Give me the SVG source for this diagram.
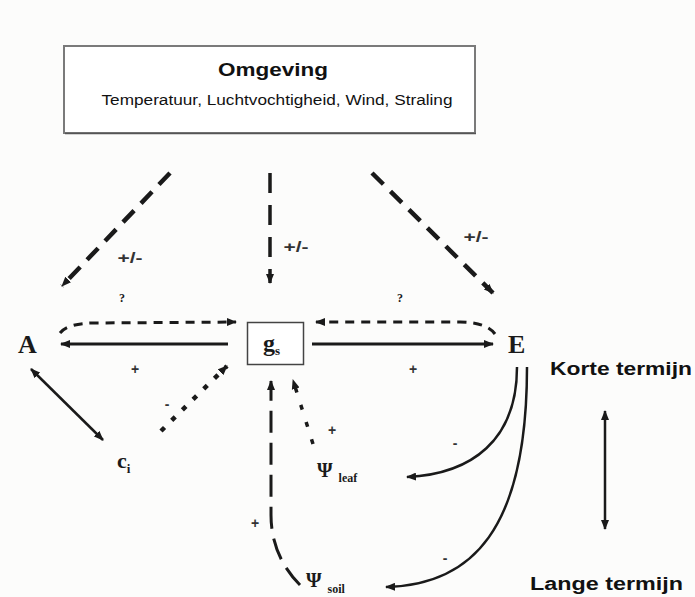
<svg xmlns="http://www.w3.org/2000/svg" width="695" height="597" viewBox="0 0 695 597">
<style>
.sans{font-family:"Liberation Sans",Arial,sans-serif;fill:#111}
.serif{font-family:"Liberation Serif","Times New Roman",serif;fill:#1a1a1a}
.lbl{font-family:"Liberation Sans",Arial,sans-serif;font-size:14px;font-weight:bold;fill:#333}
.node{font-family:"Liberation Serif","Times New Roman",serif;font-weight:bold;fill:#1a1a1a}
.solid{fill:none;stroke:#1a1a1a;stroke-width:3}
.thin{fill:none;stroke:#1a1a1a;stroke-width:2.5}
.dash{fill:none;stroke:#1a1a1a;stroke-width:4.5;stroke-dasharray:16 10}
.dashv{fill:none;stroke:#1a1a1a;stroke-width:3.5;stroke-dasharray:20 12}
.dot{fill:none;stroke:#1a1a1a;stroke-width:3;stroke-dasharray:9 7}
.dotc{fill:none;stroke:#1a1a1a;stroke-width:4.5;stroke-dasharray:5 10}
.dotl{fill:none;stroke:#1a1a1a;stroke-width:3.5;stroke-dasharray:5 13}
.longd{fill:none;stroke:#1a1a1a;stroke-width:3;stroke-dasharray:22 10}
</style>
<defs>
<marker id="ah" viewBox="0 0 10 8" refX="9" refY="4" markerWidth="10" markerHeight="8" markerUnits="userSpaceOnUse" orient="auto-start-reverse">
<path d="M0,0 L10,4 L0,8 z" fill="#1a1a1a"/>
</marker>
<marker id="ahs" viewBox="0 0 10 8" refX="9" refY="4" markerWidth="10" markerHeight="9" markerUnits="userSpaceOnUse" orient="auto-start-reverse">
<path d="M0,0 L10,4 L0,8 z" fill="#1a1a1a"/>
</marker>
</defs>
<rect x="0" y="0" width="695" height="597" fill="#fcfcfb"/>

<g id="omgeving">
<rect x="64" y="46" width="411" height="87" fill="#ffffff" stroke="#7a7a7a" stroke-width="2"/>
<line x1="65" y1="133.5" x2="476" y2="133.5" stroke="#555" stroke-width="1.5"/>
<text class="sans" x="273" y="76" font-size="19" font-weight="bold" text-anchor="middle" textLength="110" lengthAdjust="spacingAndGlyphs">Omgeving</text>
<text class="sans" x="277" y="105" font-size="14" text-anchor="middle" textLength="351" lengthAdjust="spacingAndGlyphs">Temperatuur, Luchtvochtigheid, Wind, Straling</text>
</g>

<g id="connectors">
<path class="dash" d="M170,173 L62,286" marker-end="url(#ahs)"/>
<path class="dashv" d="M270,173 L270,283" marker-end="url(#ahs)"/>
<path class="dash" d="M372,173 L493,293" marker-end="url(#ahs)"/>
<path class="dot" d="M60,333 Q68,323 95,323 L236,322" marker-end="url(#ahs)"/>
<path class="dot" d="M495,334 Q486,322 460,322 L316,322" marker-end="url(#ahs)"/>
<path class="solid" d="M228,344 L61,344" marker-end="url(#ah)"/>
<path class="solid" d="M312,344 L493,344" marker-end="url(#ah)"/>
<path class="thin" d="M31,369 L103,440" marker-start="url(#ah)" marker-end="url(#ah)"/>
<path class="dotc" d="M161,431 L227,366" marker-end="url(#ahs)"/>
<path class="dotl" d="M313,444 L293,380" marker-end="url(#ahs)"/>
<path class="longd" d="M300,585 C281,566 271,542 271,515 L271,381" marker-end="url(#ahs)"/>
<path class="thin" d="M517,367 C517,440 472,474 407,477" marker-end="url(#ah)"/>
<path class="thin" d="M527,367 C527,530 472,585 386,587" marker-end="url(#ah)"/>
<path class="thin" d="M605,411 L605,529" marker-start="url(#ah)" marker-end="url(#ah)"/>
</g>

<g id="labels">
<text class="lbl" x="130" y="263" text-anchor="middle" textLength="25" lengthAdjust="spacingAndGlyphs">+/-</text>
<text class="lbl" x="296" y="252" text-anchor="middle" textLength="25" lengthAdjust="spacingAndGlyphs">+/-</text>
<text class="lbl" x="476" y="242" text-anchor="middle" textLength="25" lengthAdjust="spacingAndGlyphs">+/-</text>
<text class="serif" x="122" y="302" font-size="12" font-weight="bold" text-anchor="middle">?</text>
<text class="serif" x="400" y="302" font-size="12" font-weight="bold" text-anchor="middle">?</text>
<text class="lbl" x="135" y="374" text-anchor="middle" font-weight="normal">+</text>
<text class="lbl" x="413" y="374" text-anchor="middle" font-weight="normal">+</text>
<text class="lbl" x="167" y="409" text-anchor="middle">-</text>
<text class="lbl" x="332" y="435" text-anchor="middle" font-weight="normal">+</text>
<text class="lbl" x="255" y="528" text-anchor="middle" font-weight="normal">+</text>
<text class="lbl" x="455" y="448" text-anchor="middle">-</text>
<text class="lbl" x="445" y="563" text-anchor="middle">-</text>
</g>

<g id="A"><text class="node" x="18" y="353" font-size="26">A</text></g>
<g id="E"><text class="node" x="508" y="353" font-size="26">E</text></g>
<g id="gs">
<rect x="247.5" y="322.5" width="56" height="42" fill="#ffffff" stroke="#444" stroke-width="1.5"/>
<text class="node" x="263" y="351" font-size="24">g<tspan font-size="13" dy="4">s</tspan></text>
</g>
<g id="ci"><text class="node" x="117" y="468" font-size="22">c<tspan font-size="13" dy="5">i</tspan></text></g>
<g id="psi_leaf"><text class="node" x="317" y="477" font-size="20">Ψ<tspan font-size="12" dx="6" dy="5">leaf</tspan></text></g>
<g id="psi_soil"><text class="node" x="306" y="587" font-size="20">Ψ<tspan font-size="12" dx="6" dy="6">soil</tspan></text></g>

<g id="termijn">
<text class="sans" x="550" y="375" font-size="18" font-weight="bold" textLength="142" lengthAdjust="spacingAndGlyphs">Korte termijn</text>
<text class="sans" x="530" y="590" font-size="18" font-weight="bold" textLength="153" lengthAdjust="spacingAndGlyphs">Lange termijn</text>
</g>
</svg>
